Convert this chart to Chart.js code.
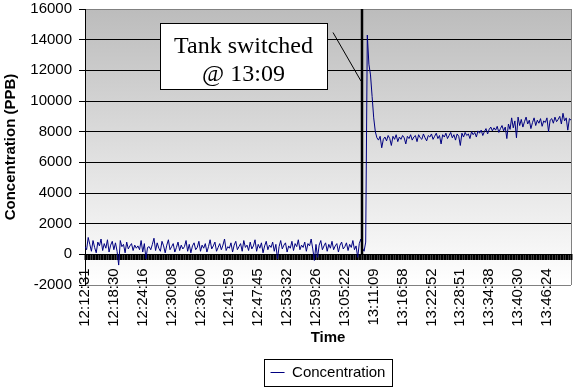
<!DOCTYPE html>
<html lang="en">
<head>
    <meta charset="UTF-8">
    <title>Concentration</title>
    <style>
        html, body { margin: 0; padding: 0; background: #fff; }
        #box { width: 575px; height: 390px; }
    </style>
</head>
<body>
    <div id="box"><canvas id="myChart"></canvas></div>
    <script src="https://cdn.jsdelivr.net/npm/chart.js"></script>
    <script>
        // time labels shown under the axis, one every labelStep samples
        var timeLabels = [
            "12:12:31", "12:18:30", "12:24:16", "12:30:08", "12:36:00", "12:41:59",
            "12:47:45", "12:53:32", "12:59:26", "13:05:22", "13:11:09", "13:16:58",
            "13:22:52", "13:28:51", "13:34:38", "13:40:30", "13:46:24"
        ];
        var labelStep = 18;
        var switchIndex = 173;
        var noteLines = ["Tank switched", "@ 13:09"];

        // concentration in PPB, one value per sample
        var concentration = [
            500, 300, 1100, 650, 200, 900, 450, 100, 800, 550, 1000, 250, 700, 400, 950,
            150, 600, 850, 300, 750, 200, -700, 900, 500, 650, 100, 800, 350, 550, 700,
            250, 600, 400, 550, 300, 900, 150, 700, -300, 450, 500, 300, 650, 1050, 250,
            750, 400, 200, 850, 550, 100, 600, 950, 300, 500, 700, 150, 450, 800, 250,
            600, 350, 500, 900, 200, 650, 100, 550, 750, 300, 450, 850, 200, 600, 400,
            700, 150, 500, 950, 350, 550, 800, 200, 450, 700, 300, 600, 1000, 250, 500,
            400, 750, 150, 600, 850, 300, 500, 700, 200, 900, 450, 600, 250, 800, 350,
            550, 950, 200, 650, 400, 750, 100, 550, 850, 300, 600, 450, 800, 200, 650,
            -300, 500, 900, 350, 600, 750, 150, 550, 400, 850, 250, 700, 500, 950, 300,
            600, 450, 800, 200, 700, 550, 1000, 350, -400, 650, -200, 600, 900, 300, 550,
            750, 200, 650, 400, 850, 300, 550, 700, 150, 600, 800, 350, 500, 750, 250,
            650, 450, 900, 300, 550, -200, 700, 1000, 400, 200,
            800, 14300, 12400, 11700, 10300, 8900, 8000,
            7600, 7450, 7700, 6950, 7500, 7650, 7400, 7750, 7550, 7100, 7700, 7500, 7800, 7350, 7650,
            7500, 7750, 7600, 7200, 7700, 7550, 7800, 7450, 7650, 7750, 7350, 7800, 7600, 7500, 7850,
            7600, 7400, 7750, 7650, 7850, 7500, 7700, 7900, 7550, 7750, 7200, 7800, 7650, 7900, 7550,
            7750, 7950, 7600, 7800, 7450, 7850, 7700, 7100, 7900, 7650, 7950, 7750, 7850, 7550, 8000,
            7800, 7950, 7650, 8050, 7900, 8100, 7750, 8000, 8200, 7850, 8150, 8300, 8050, 8250, 8100,
            8350, 7950, 8200, 8400, 8050, 8300, 7550, 8500, 8150, 8900, 8250, 8700, 7600, 8950, 8400,
            8800, 8300, 8650, 8950, 8500, 8750, 8200, 8600, 8900, 8400, 8750, 8550, 8850, 8350, 8700,
            8600, 8900, 8000, 8750, 8850, 8550, 8950, 8650, 8800, 9000, 8500, 9200, 8700, 8900, 8100,
            8850, 8750
        ];

        Chart.defaults.font.family = "'Liberation Sans', Arial, sans-serif";
        Chart.defaults.color = "#000";

        // gray gradient behind the plot, like the old excel chart
        var plotBackground = {
            id: "plotBackground",
            beforeDraw: function (chart) {
                var a = chart.chartArea;
                var ctx = chart.ctx;
                var g = ctx.createLinearGradient(0, a.top, 0, a.bottom);
                g.addColorStop(0, "#bcbcbc");
                g.addColorStop(1, "#ffffff");
                ctx.save();
                ctx.fillStyle = g;
                ctx.fillRect(a.left, a.top, a.right - a.left, a.bottom - a.top);
                ctx.strokeStyle = "#808080";
                ctx.lineWidth = 1;
                ctx.beginPath();
                ctx.moveTo(a.right + 0.5, a.top);
                ctx.lineTo(a.right + 0.5, a.bottom);
                ctx.stroke();
                ctx.restore();
            }
        };

        // vertical marker and the text box pointing at it
        var switchNote = {
            id: "switchNote",
            afterDatasetsDraw: function (chart) {
                var xs = chart.scales.x;
                var ys = chart.scales.y;
                var ctx = chart.ctx;
                var sx = Math.round(xs.getPixelForValue(switchIndex));

                ctx.save();
                ctx.strokeStyle = "#000";
                ctx.lineWidth = 2.5;
                ctx.beginPath();
                ctx.moveTo(sx, chart.chartArea.top);
                ctx.lineTo(sx, ys.getPixelForValue(0));
                ctx.stroke();

                var right = sx - 35;
                var left = right - 167;
                var top = Math.round(ys.getPixelForValue(15100)) + 0.5;
                var bottom = Math.round(ys.getPixelForValue(10800)) + 0.5;
                ctx.fillStyle = "#fff";
                ctx.fillRect(left, top, right - left, bottom - top);
                ctx.lineWidth = 1;
                ctx.strokeRect(left + 0.5, top, right - left, bottom - top);

                ctx.beginPath();
                ctx.moveTo(right + 6, top + 9);
                ctx.lineTo(sx - 1, ys.getPixelForValue(11300));
                ctx.stroke();

                ctx.fillStyle = "#000";
                ctx.font = "24px 'Liberation Serif', 'Times New Roman', serif";
                ctx.textAlign = "center";
                ctx.textBaseline = "alphabetic";
                ctx.fillText(noteLines[0], (left + right) / 2, top + 29);
                ctx.fillText(noteLines[1], (left + right) / 2, top + 57);
                ctx.restore();
            }
        };

        // border around the legend item
        var legendFrame = {
            id: "legendFrame",
            afterDraw: function (chart) {
                var hb = chart.legend.legendHitBoxes[0];
                if (!hb) return;
                var ctx = chart.ctx;
                ctx.save();
                ctx.strokeStyle = "#000";
                ctx.lineWidth = 1;
                ctx.strokeRect(Math.round(hb.left) - 6.5, Math.round(hb.top) - 5.5, Math.round(hb.width) + 13, Math.round(hb.height) + 12);
                ctx.restore();
            }
        };

        var data = {
            datasets: [{
                label: "Concentration",
                data: concentration.map(function (v, i) { return { x: i, y: v }; }),
                borderColor: "#000080",
                backgroundColor: "#000080",
                borderWidth: 1,
                pointRadius: 0,
                pointStyle: "line",
                tension: 0
            }]
        };

        var config = {
            type: "line",
            data: data,
            plugins: [plotBackground, switchNote, legendFrame],
            options: {
                responsive: true,
                maintainAspectRatio: false,
                animation: false,
                layout: { padding: { top: 9, right: 4, left: 0, bottom: 0 } },
                scales: {
                    x: {
                        type: "linear",
                        position: { y: 0 },
                        min: 0,
                        max: concentration.length - 1,
                        afterBuildTicks: function (scale) {
                            var t = [];
                            for (var i = 0; i < concentration.length; i++) {
                                t.push({ value: i });
                            }
                            scale.ticks = t;
                        },
                        afterFit: function (scale) {
                            scale.paddingLeft = 0;
                            scale.paddingRight = 0;
                        },
                        ticks: {
                            autoSkip: false,
                            minRotation: 90,
                            maxRotation: 90,
                            padding: 8,
                            font: { size: 15 },
                            callback: function (value) {
                                return value % labelStep === 0 ? timeLabels[value / labelStep] : "";
                            }
                        },
                        grid: {
                            drawOnChartArea: false,
                            tickLength: 6,
                            tickColor: "#000",
                            tickWidth: 2
                        },
                        border: { display: false }
                    },
                    y: {
                        min: -2000,
                        max: 16000,
                        ticks: {
                            stepSize: 2000,
                            padding: 7,
                            font: { size: 15 },
                            callback: function (v) { return String(v); }
                        },
                        grid: {
                            color: function (ctx) {
                                var v = ctx.tick ? ctx.tick.value : 0;
                                return (v === 16000 || v === -2000) ? "#808080" : "#000";
                            },
                            tickColor: "#000",
                            tickLength: 6
                        },
                        border: { color: "#000" },
                        title: {
                            display: true,
                            text: "Concentration (PPB)",
                            font: { size: 15, weight: "bold" },
                            padding: { top: 2, bottom: 2 }
                        },
                        afterFit: function (scale) {
                            scale.width = 85;
                            scale.paddingTop = 0;
                            scale.paddingBottom = 0;
                        }
                    }
                },
                plugins: {
                    tooltip: { enabled: false },
                    title: {
                        display: true,
                        text: "Time",
                        position: "bottom",
                        fullSize: false,
                        weight: 500,
                        font: { size: 15, weight: "bold" },
                        padding: { top: 44, bottom: 8 }
                    },
                    legend: {
                        position: "bottom",
                        fullSize: false,
                        labels: {
                            usePointStyle: true,
                            pointStyleWidth: 14,
                            font: { size: 15 },
                            padding: 10
                        }
                    }
                }
            }
        };

        new Chart(document.getElementById("myChart"), config);
    </script>
</body>
</html>
